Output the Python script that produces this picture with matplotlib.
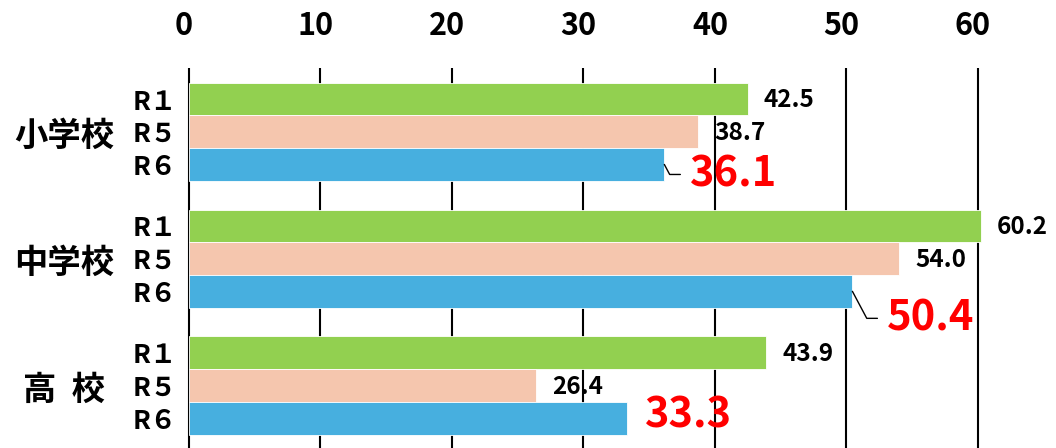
import matplotlib
matplotlib.use('Agg')
import matplotlib.pyplot as plt
from matplotlib.transforms import blended_transform_factory, ScaledTranslation

plt.rcParams['font.family'] = ['Noto Sans CJK JP', 'DejaVu Sans']

# data
schools = ['小学校', '中学校', '高  校']
years = ['R１', 'R５', 'R６']
r1_vals = [42.5, 60.2, 43.9]
r5_vals = [38.7, 54.0, 26.4]
r6_vals = [36.1, 50.4, 33.3]
x_ticks = [0, 10, 20, 30, 40, 50, 60]

colors = ['#92D050', '#F5C6AE', '#47AFDF']
group_gap = 3.88  # distance between group starts, in bar units

fig = plt.figure(figsize=(10.56, 4.48), dpi=100)
ax = fig.add_axes([185 / 1056, 0, 1 - 185 / 1056, 380 / 448])

ytick_pos = []
ytick_lbl = []
for g in range(len(schools)):
    base = g * group_gap
    for j, vals in enumerate([r1_vals, r5_vals, r6_vals]):
        pos = base + j
        ax.barh(pos, vals[g], height=1.0, color=colors[j],
                edgecolor='white', linewidth=0.6, zorder=2)
        ytick_pos.append(pos)
        ytick_lbl.append(years[j])

# black value labels for R1 and R5
for g in range(len(schools)):
    base = g * group_gap
    for j, vals in enumerate([r1_vals, r5_vals]):
        ax.annotate(f'{vals[g]:.1f}', xy=(vals[g], base + j),
                    xytext=(16, -1), textcoords='offset pixels',
                    ha='left', va='center', fontsize=17.5,
                    fontweight='bold', color='black', zorder=4)

# red labels for R6 (with leader lines for first two)
red_offsets = [(26, -10), (35, -27), (18, 3)]
leader = [True, True, False]
for g in range(len(schools)):
    pos = g * group_gap + 2
    dx, dy = red_offsets[g]
    ax.annotate(f'{r6_vals[g]:.1f}', xy=(r6_vals[g], pos),
                xytext=(dx, dy), textcoords='offset pixels',
                ha='left', va='center', fontsize=30,
                fontweight='bold', color='#FF0000', zorder=4)
    if leader[g]:
        ax.annotate('', xy=(r6_vals[g] + 0.05, pos),
                    xytext=(dx - 10, dy), textcoords='offset pixels',
                    arrowprops=dict(arrowstyle='-', color='black', lw=1.0,
                                    shrinkA=0, shrinkB=0,
                                    connectionstyle='angle,angleA=0,angleB=-62,rad=0'),
                    zorder=4)

ax.set_xlim(-0.3, (1056 - 189) / 13.15)
ax.set_ylim(-0.95 + (448 - 68) / 32.7, -0.95)
ax.set_xticks(x_ticks)
ax.set_xticklabels([str(t) for t in x_ticks], fontsize=22, fontweight='bold')
ax.xaxis.tick_top()
ax.tick_params(axis='x', length=0, pad=19)
shift = ScaledTranslation(-5 / 100, 0, fig.dpi_scale_trans)
for lbl in ax.get_xticklabels():
    lbl.set_transform(lbl.get_transform() + shift)
ax.set_yticks(ytick_pos)
ax.set_yticklabels(ytick_lbl, fontsize=19, fontweight='bold')
ax.tick_params(axis='y', length=0, pad=6)
ax.xaxis.grid(True, color='black', linewidth=1.5, zorder=0)
ax.set_axisbelow(True)
for s in ax.spines.values():
    s.set_visible(False)

# school labels
trans = blended_transform_factory(fig.transFigure, ax.transData)
for g, name in enumerate(schools):
    ax.text(64 / 1056, g * group_gap + 1.15, name, transform=trans,
            ha='center', va='center', fontsize=24, fontweight='bold')

fig.savefig('out.png', dpi=100)
